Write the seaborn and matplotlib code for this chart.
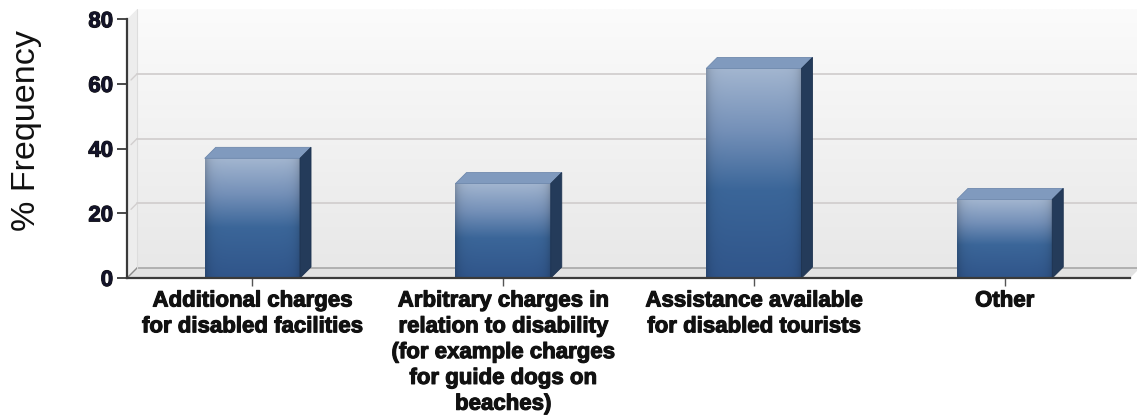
import numpy as np
import pandas as pd
import matplotlib
matplotlib.use("Agg")
import matplotlib.pyplot as plt
import matplotlib.patheffects as pe
import seaborn as sns
from matplotlib.patches import Polygon
from matplotlib.colors import to_rgb

# ---- data -------------------------------------------------------------
categories = [
    "Additional charges\nfor disabled facilities",
    "Arbitrary charges in\nrelation to disability\n(for example charges\nfor guide dogs on\nbeaches)",
    "Assistance available\nfor disabled tourists",
    "Other",
]
frequency = [37.0, 29.2, 64.8, 24.3]
y_ticks = [0, 20, 40, 60, 80]
y_label = "% Frequency"

# ---- style ------------------------------------------------------------
sns.set_theme(style="white")
plt.rcParams["font.family"] = ["Liberation Sans", "DejaVu Sans"]

W, H, DPI = 1137, 420, 100
fig = plt.figure(figsize=(W / DPI, H / DPI), dpi=DPI)
ax_left, ax_right, ax_bottom, ax_top = 127, 1130, 278, 19.3
ax = fig.add_axes([ax_left / W, 1 - ax_bottom / H,
                   (ax_right - ax_left) / W, (ax_bottom - ax_top) / H])

df = pd.DataFrame({"category": categories, "frequency": frequency})
sns.barplot(data=df, x="category", y="frequency", ax=ax, width=0.38,
            color="#3d6699", saturation=1, zorder=5)

XMIN, XMAX, YMIN, YMAX = -0.5, 3.5, 0, 80
ax.set_xlim(XMIN, XMAX)
ax.set_ylim(YMIN, YMAX)

# pixel -> data conversion for the pseudo-3D depth
px_x = (XMAX - XMIN) / (ax_right - ax_left)
px_y = (YMAX - YMIN) / (ax_bottom - ax_top)
wall_dx, wall_dy = 10 * px_x, 10 * px_y
bar_dx, bar_dy = 11 * px_x, 11 * px_y


def vgrad(stops, n=256):
    """Vertical gradient image (top -> bottom) from (pos, colour) stops."""
    t = np.linspace(0, 1, n)
    pos = [s[0] for s in stops]
    cols = np.array([to_rgb(s[1]) for s in stops])
    rgb = np.stack([np.interp(t, pos, cols[:, k]) for k in range(3)], axis=1)
    return rgb[:, None, :]


# back wall with soft grey gradient
wall = vgrad([(0, "#fbfbfb"), (1, "#e8e8e8")])
ax.imshow(np.repeat(wall, 2, axis=1), aspect="auto", origin="upper",
          extent=(XMIN + wall_dx, XMAX + 3 * wall_dx, YMIN + wall_dy, YMAX + wall_dy),
          zorder=0, clip_on=False, interpolation="bilinear")

# left wall and floor
ax.add_patch(Polygon([(XMIN, 0), (XMIN, YMAX), (XMIN + wall_dx, YMAX + wall_dy),
                      (XMIN + wall_dx, wall_dy)], closed=True,
                     facecolor="#ededed", edgecolor="none", zorder=1, clip_on=False))
ax.add_patch(Polygon([(XMIN, 0), (XMAX, 0), (XMAX + wall_dx, wall_dy),
                      (XMIN + wall_dx, wall_dy)], closed=True,
                     facecolor="#e2e2e2", edgecolor="none", zorder=1, clip_on=False))
ax.plot([XMIN + wall_dx, XMAX + 3 * wall_dx], [wall_dy, wall_dy], color="#a8a8a8",
        lw=1.2, zorder=2, clip_on=False)
ax.plot([XMIN, XMIN + wall_dx], [0, wall_dy], color="#8a8a8a", lw=1.0,
        zorder=2, clip_on=False)
ax.plot([XMIN + wall_dx, XMIN + wall_dx], [wall_dy, YMAX + wall_dy], color="#dddddd",
        lw=0.8, zorder=2, clip_on=False)

# gridlines on the back wall
for v in y_ticks[1:-1]:
    ax.plot([XMIN + wall_dx, XMAX + 3 * wall_dx], [v + wall_dy, v + wall_dy],
            color="#d2cfcf", lw=1.3, zorder=2, clip_on=False)
    ax.plot([XMIN + 0.4 * wall_dx, XMIN + wall_dx], [v + 0.4 * wall_dy, v + wall_dy],
            color="#d2cfcf", lw=1.0, zorder=2, clip_on=False)

# shaded 3D bars built on the seaborn bar patches
front = vgrad([(0, "#a3b6d0"), (0.3, "#7490b8"), (0.58, "#3b6699"), (1, "#30558a")])
n_cols = 64
xs = np.linspace(0, 1, n_cols)
edge = 1 - 0.18 * (np.exp(-xs / 0.05) + np.exp(-(1 - xs) / 0.05))
for p in list(ax.patches):
    if p.get_zorder() != 5:
        continue
    x0, w, h = p.get_x(), p.get_width(), p.get_height()
    img = front * edge[None, :, None]
    ax.imshow(img, aspect="auto", origin="upper", extent=(x0, x0 + w, 0, h),
              zorder=6, interpolation="bilinear")
    p.set_facecolor("none")
    p.set_edgecolor("none")
    ax.add_patch(Polygon([(x0, h), (x0 + w, h), (x0 + w + bar_dx, h + bar_dy),
                          (x0 + bar_dx, h + bar_dy)], closed=True,
                         facecolor="#809abe", edgecolor="#6f89ad", lw=0.6, zorder=6))
    ax.add_patch(Polygon([(x0 + w, 0), (x0 + w, h), (x0 + w + bar_dx, h + bar_dy),
                          (x0 + w + bar_dx, bar_dy)], closed=True,
                         facecolor="#243b5a", edgecolor="#1e3350", lw=0.6, zorder=6))

ax.set_xlim(XMIN, XMAX)
ax.set_ylim(YMIN, YMAX)

# axes, ticks and labels
sns.despine(ax=ax, top=True, right=True)
for side in ("left", "bottom"):
    ax.spines[side].set_color("#3a3a3a")
    ax.spines[side].set_linewidth(1.6)
    ax.spines[side].set_zorder(7)
ax.set_yticks(y_ticks)
ax.tick_params(axis="y", left=True, length=7, width=1.3, color="#3a3a3a",
               labelsize=16, pad=3, labelcolor="#14142a")
ax.tick_params(axis="x", bottom=True, length=6, width=1.0, color="#555555",
               labelsize=16, pad=3, labelcolor="#111111")
heavy = [pe.withStroke(linewidth=0.8, foreground="#111111")]
for lbl in ax.get_yticklabels() + ax.get_xticklabels():
    lbl.set_fontweight("bold")
    lbl.set_path_effects(heavy)
for lbl in ax.get_xticklabels():
    lbl.set_linespacing(1.3)
ax.set_xlabel("")
ax.set_ylabel("")
fig.text(27 / W, 1 - 131 / H, y_label, rotation=90, ha="center", va="center",
         fontsize=24.5, color="#111111")

fig.savefig("out.png", dpi=DPI, facecolor="white")
